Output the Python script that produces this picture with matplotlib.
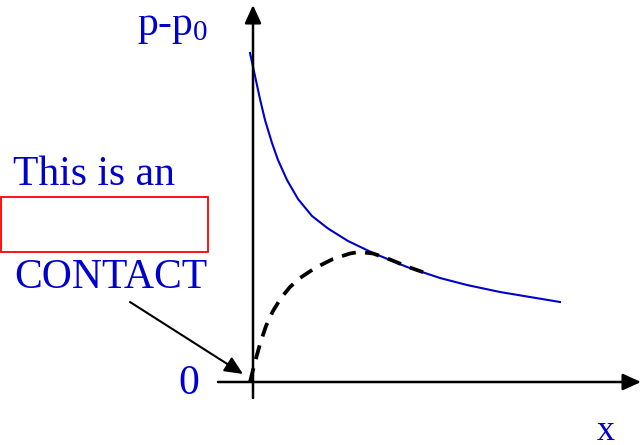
import matplotlib
matplotlib.use("Agg")
import matplotlib.pyplot as plt
from matplotlib.patches import Rectangle

plt.rcParams['font.family'] = ['Liberation Serif', 'DejaVu Serif']
plt.rcParams['mathtext.fontset'] = 'custom'
plt.rcParams['mathtext.rm'] = 'Liberation Serif'
plt.rcParams['mathtext.it'] = 'Liberation Serif:italic'

# pressure excess p-p0 along x (solid blue curve)
blue_x = [-0.03, 0.02, 0.07, 0.12, 0.19, 0.25, 0.34, 0.45, 0.59, 0.75, 0.95,
          1.20, 1.54, 1.87, 2.14, 2.47, 2.80, 3.07]
blue_y = [3.29, 3.06, 2.83, 2.62, 2.39, 2.22, 2.02, 1.83, 1.66, 1.535, 1.41,
          1.29, 1.15, 1.04, 0.97, 0.90, 0.845, 0.80]

# profile near the contact (dashed black curve)
dash_x = [-0.03, 0.02, 0.07, 0.13, 0.20, 0.28, 0.37, 0.47, 0.62, 0.80, 0.97,
          1.06, 1.20, 1.37, 1.54, 1.78]
dash_y = [0.00, 0.20, 0.38, 0.56, 0.71, 0.84, 0.95, 1.04, 1.14, 1.23, 1.285,
          1.30, 1.285, 1.225, 1.155, 1.07]

blue = '#0000cc'

fig = plt.figure(figsize=(6.42, 4.45), dpi=100)
ax = fig.add_axes([0, 0, 1, 1])
ax.set_xlim(-2.53, 3.89)
ax.set_ylim(-0.63, 3.82)
ax.axis('off')

# axes with arrow heads
head = '-|>,head_length=1.1,head_width=0.5'
ax.annotate('', xy=(0, 3.77), xytext=(0, -0.16),
            arrowprops=dict(arrowstyle=head, color='black', lw=1.8,
                            mutation_scale=10, shrinkA=0, shrinkB=0))
ax.annotate('', xy=(3.88, 0), xytext=(-0.35, 0),
            arrowprops=dict(arrowstyle=head, color='black', lw=1.8,
                            mutation_scale=10, shrinkA=0, shrinkB=0))

# curves
ax.plot(blue_x, blue_y, color=blue, lw=1.5, solid_joinstyle='round')
ax.plot(dash_x, dash_y, color='black', lw=2.7, ls=(0, (3.8, 2.5)),
        dash_joinstyle='round')

# labels
ax.text(-1.16, 3.47, r'p-p$_{\mathrm{0}}$', color=blue, fontsize=30,
        ha='left', va='baseline')
ax.text(-0.75, -0.12, '0', color=blue, fontsize=30, ha='left', va='baseline')
ax.text(3.44, -0.585, 'x', color=blue, fontsize=26, ha='left', va='baseline')
ax.text(-2.40, 1.97, 'This is an', color=blue, fontsize=30,
        ha='left', va='baseline')
ax.text(-2.39, 0.94, 'CONTACT', color=blue, fontsize=30,
        ha='left', va='baseline')

# empty red box
ax.add_patch(Rectangle((-2.52, 1.30), 2.07, 0.55, fill=False,
                       edgecolor='#ff0000', lw=1.3))

# arrow pointing at the contact point
ax.annotate('', xy=(-0.10, 0.08), xytext=(-1.23, 0.80),
            arrowprops=dict(arrowstyle=head, color='black', lw=1.5,
                            mutation_scale=10, shrinkA=0, shrinkB=0))

fig.savefig('out.png', dpi=100)
